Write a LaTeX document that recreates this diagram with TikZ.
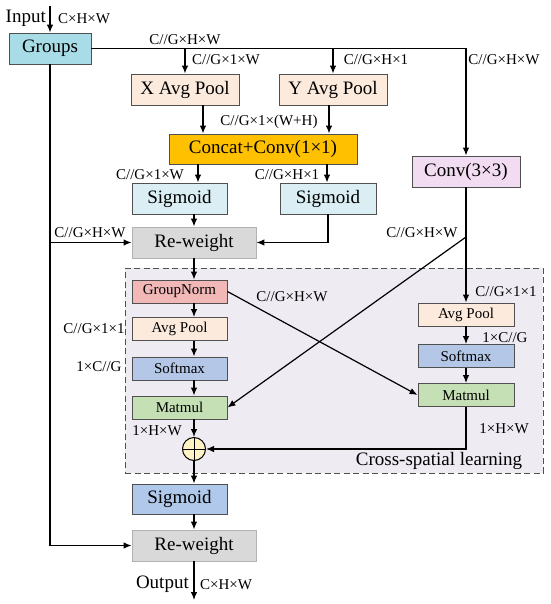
\documentclass[tikz,border=0pt]{standalone}
\usepackage{fontspec}
\setmainfont{Liberation Serif}
\usetikzlibrary{arrows.meta}
\definecolor{cgroups}{HTML}{A8DCE6}
\definecolor{cpool}{HTML}{FCEBDD}
\definecolor{cconcat}{HTML}{FFC000}
\definecolor{csigt}{HTML}{DAEEF3}
\definecolor{cconv}{HTML}{F2DCF2}
\definecolor{crw}{HTML}{D9D9D9}
\definecolor{cdash}{HTML}{EEEBF3}
\definecolor{cgn}{HTML}{F2B8B8}
\definecolor{csoft}{HTML}{B4C7E7}
\definecolor{cmm}{HTML}{C5E0B4}
\definecolor{csigb}{HTML}{B0C8EA}
\definecolor{csum}{HTML}{FFF2C4}
\definecolor{cborder}{HTML}{505050}
\begin{document}
\begin{tikzpicture}[x=1pt,y=-1pt,
  big/.style={font=\fontsize{19}{22}\selectfont},
  small/.style={font=\fontsize{15}{17}\selectfont},
  bbox/.style={draw=cborder,line width=0.9pt,inner sep=0pt,minimum height=31pt,big},
  ibox/.style={draw=cborder,line width=0.9pt,inner sep=0pt,minimum height=23pt,small},
  lbl/.style={small,inner sep=0pt},
  arr/.style={line width=1.2pt,-{Latex[length=8pt,width=6.5pt]}},
  ln/.style={line width=1.2pt}]
\useasboundingbox (0,0) rectangle (550,604);
% dashed region
\node[draw=cborder,dash pattern=on 6pt off 3.5pt,line width=0.9pt,fill=cdash,minimum width=418pt,minimum height=205pt,inner sep=0pt] (region) at (334,370.5) {};
% nodes
\node[bbox,fill=cgroups,minimum width=82pt] (groups) at (50,48.5) {Groups};
\node[bbox,fill=cpool,minimum width=108pt] (xpool) at (185,89.5) {X Avg Pool};
\node[bbox,fill=cpool,minimum width=108pt] (ypool) at (333,89.5) {Y Avg Pool};
\node[bbox,fill=cconcat,minimum width=188pt,minimum height=30pt] (concat) at (263,149) {Concat+Conv(1×1)};
\node[bbox,fill=cconv,minimum width=108pt] (conv) at (466,171.5) {Conv(3×3)};
\node[bbox,fill=csigt,minimum width=95pt] (sigL) at (179.5,198.5) {Sigmoid};
\node[bbox,fill=csigt,minimum width=96pt] (sigR) at (328,198.5) {Sigmoid};
\node[bbox,draw=black!30,fill=crw,minimum width=124pt] (rwA) at (194,242.5) {Re-weight};
\node[ibox,fill=cgn,minimum width=95pt] (gn) at (179.5,291.5) {GroupNorm};
\node[ibox,fill=cpool,minimum width=95pt] (apL) at (179.5,329) {Avg Pool};
\node[ibox,fill=csoft,minimum width=95pt] (smL) at (179.5,368.5) {Softmax};
\node[ibox,fill=cmm,minimum width=95pt] (mmL) at (179.5,407.5) {Matmul};
\node[ibox,fill=cpool,minimum width=96pt] (apR) at (466,314.5) {Avg Pool};
\node[ibox,fill=csoft,minimum width=96pt] (smR) at (466,356) {Softmax};
\node[ibox,fill=cmm,minimum width=96pt] (mmR) at (466,395) {Matmul};
\node[circle,draw=black,line width=1pt,fill=csum,minimum size=23pt,inner sep=0pt] (sum) at (194,449) {};
\draw[line width=1pt] (sum.north) -- (sum.south) (sum.west) -- (sum.east);
\node[bbox,fill=csigb,minimum width=95pt,minimum height=30pt] (sigB) at (179.5,499) {Sigmoid};
\node[bbox,draw=black!30,fill=crw,minimum width=124pt] (rwB) at (194,545.5) {Re-weight};
% helper coordinates
\coordinate (inTop) at (50,6);
\coordinate (outEnd) at (194,600);
\coordinate (bx) at (185,48.5);
\coordinate (by) at (333,48.5);
\coordinate (bl) at (50,242.5);
\coordinate (dj) at (466,237);
\coordinate (colA) at (203,0);
\coordinate (colB) at (329,0);
\coordinate (colC) at (198,0);
\coordinate (colD) at (327,0);
% connectors
\draw[arr] (inTop) -- (groups.north);
\draw[arr] (groups.east) -| (conv.north);
\draw[arr] (bx) -- (xpool.north);
\draw[arr] (by) -- (ypool.north);
\draw[arr] (xpool.south -| colA) -- (concat.north -| colA);
\draw[arr] (ypool.south -| colB) -- (concat.north -| colB);
\draw[arr] (concat.south -| colC) -- (sigL.north -| colC);
\draw[arr] (concat.south -| colD) -- (sigR.north -| colD);
\draw[arr] (sigL.south -| rwA) -- (rwA.north);
\draw[arr] (sigR.south) |- (rwA.east);
\draw[arr] (groups.south) |- (rwB.west);
\draw[arr] (bl) -- (rwA.west);
\draw[arr] (rwA.south) -- (gn.north -| rwA);
\draw[arr] (gn.south -| rwA) -- (apL.north -| rwA);
\draw[arr] (apL.south -| rwA) -- (smL.north -| rwA);
\draw[arr] (smL.south -| rwA) -- (mmL.north -| rwA);
\draw[arr] (mmL.south -| sum) -- (sum.north);
\draw[arr] (conv.south) -- (apR.north);
\draw[arr] (apR.south) -- (smR.north);
\draw[arr] (smR.south) -- (mmR.north);
\draw[arr] (mmR.south) |- (sum.east);
\draw[arr] (dj) -- (mmL.east);
\draw[arr] (gn.east) -- (mmR.west);
\draw[arr] (sum.south) -- (sigB.north -| sum);
\draw[arr] (sigB.south -| sum) -- (rwB.north -| sum);
\draw[arr] (rwB.south -| sum) -- (outEnd);
% labels
\node[big,inner sep=0pt,anchor=east] (tin) at (46,18) {Input};
\node[lbl] (l1) at (84,19) {C×H×W};
\node[lbl] (l2) at (185,40) {C//G×H×W};
\node[lbl] (l3) at (226,60) {C//G×1×W};
\node[lbl] (l4) at (376,60) {C//G×H×1};
\node[lbl] (l5) at (504,60) {C//G×H×W};
\node[lbl] (l6) at (269,122) {C//G×1×(W+H)};
\node[lbl] (l7) at (150,175) {C//G×1×W};
\node[lbl] (l8) at (287,175) {C//G×H×1};
\node[lbl] (l9) at (90,233) {C//G×H×W};
\node[lbl] (l10) at (422,233) {C//G×H×W};
\node[lbl] (l11) at (292,297) {C//G×H×W};
\node[lbl] (l12) at (94,329) {C//G×1×1};
\node[lbl] (l13) at (99,367) {1×C//G};
\node[lbl] (l14) at (157,431) {1×H×W};
\node[lbl] (l15) at (506,292) {C//G×1×1};
\node[lbl] (l16) at (505,338) {1×C//G};
\node[lbl] (l17) at (504,429) {1×H×W};
\node[big,inner sep=0pt] (l18) at (439,461) {Cross-spatial learning};
\node[big,inner sep=0pt,anchor=east] (tout) at (189,584) {Output};
\node[lbl] (l19) at (226,585) {C×H×W};
\end{tikzpicture}
\end{document}
